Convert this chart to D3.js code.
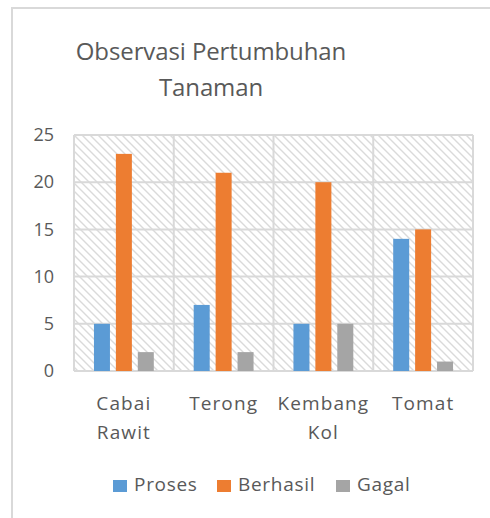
<!DOCTYPE html>
<html>
<head>
<meta charset="utf-8">
<script src="https://cdn.jsdelivr.net/npm/d3@7"></script>
<style>
  body { margin: 0; background: #fff; }
  svg text { font-family: "Open Sans", sans-serif; fill: #595959; }
</style>
</head>
<body>
<div id="chart"></div>
<script>
(function () {
  "use strict";

  // data
  const categories = ["Cabai Rawit", "Terong", "Kembang Kol", "Tomat"];
  const categoryLines = [["Cabai", "Rawit"], ["Terong"], ["Kembang", "Kol"], ["Tomat"]];
  const seriesNames = ["Proses", "Berhasil", "Gagal"];
  const proses = [5, 7, 5, 14];
  const berhasil = [23, 21, 20, 15];
  const gagal = [2, 2, 5, 1];
  const yTicks = [0, 5, 10, 15, 20, 25];
  const titleLines = ["Observasi Pertumbuhan", "Tanaman"];
  const colors = ["#5B9BD5", "#ED7D31", "#A5A5A5"];

  const seriesValues = [proses, berhasil, gagal];

  const width = 490;
  const height = 518;
  const margin = { top: 135, right: 17, bottom: 147, left: 74 };
  const plotW = width - margin.left - margin.right;
  const plotH = height - margin.top - margin.bottom;

  const svg = d3
    .select("#chart")
    .append("svg")
    .attr("width", width)
    .attr("height", height);

  // hatch pattern for the plot background
  const defs = svg.append("defs");
  defs
    .append("pattern")
    .attr("id", "hatch")
    .attr("patternUnits", "userSpaceOnUse")
    .attr("width", 8)
    .attr("height", 8)
    .append("path")
    .attr("d", "M-2,-2 L10,10 M-2,6 L2,10 M6,-2 L10,2")
    .attr("stroke", "#dadada")
    .attr("stroke-width", 1.4);

  // outer chart border (only left and top visible)
  svg
    .append("path")
    .attr("d", `M12,${height} L12,8 L${width},8`)
    .attr("fill", "none")
    .attr("stroke", "#d9d9d9")
    .attr("stroke-width", 2);

  // title
  svg
    .append("text")
    .attr("x", 211)
    .attr("y", 60)
    .attr("text-anchor", "middle")
    .style("font-size", "24px")
    .style("letter-spacing", "-0.1px")
    .selectAll("tspan")
    .data(titleLines)
    .join("tspan")
    .attr("x", 211)
    .attr("dy", (d, i) => (i === 0 ? 0 : 36))
    .text((d) => d);

  const g = svg
    .append("g")
    .attr("transform", `translate(${margin.left},${margin.top})`);

  const x0 = d3.scaleBand().domain(categories).range([0, plotW]);
  const x1 = d3
    .scaleBand()
    .domain(seriesNames)
    .range([x0.bandwidth() * 0.2, x0.bandwidth() * 0.8])
    .paddingInner(0.27);
  const y = d3.scaleLinear().domain([0, 25]).range([plotH, 0]);

  g.append("rect")
    .attr("width", plotW)
    .attr("height", plotH)
    .attr("fill", "url(#hatch)");

  // horizontal gridlines
  g.append("g")
    .selectAll("line")
    .data(yTicks)
    .join("line")
    .attr("x1", 0)
    .attr("x2", plotW)
    .attr("y1", (d) => y(d))
    .attr("y2", (d) => y(d))
    .attr("stroke", "#d9d9d9")
    .attr("stroke-width", 2);

  // vertical gridlines at category edges
  const edges = categories.map((c) => x0(c)).concat([plotW]);
  g.append("g")
    .selectAll("line")
    .data(edges)
    .join("line")
    .attr("x1", (d) => d)
    .attr("x2", (d) => d)
    .attr("y1", 0)
    .attr("y2", plotH)
    .attr("stroke", "#d9d9d9")
    .attr("stroke-width", 2);

  // bars
  const groups = g
    .append("g")
    .selectAll("g")
    .data(categories)
    .join("g")
    .attr("transform", (c) => `translate(${x0(c)},0)`);

  groups
    .selectAll("rect")
    .data((c, ci) => seriesNames.map((s, si) => ({ s, v: seriesValues[si][ci], si })))
    .join("rect")
    .attr("x", (d) => x1(d.s))
    .attr("width", x1.bandwidth())
    .attr("y", (d) => y(d.v))
    .attr("height", (d) => plotH - y(d.v))
    .attr("fill", (d) => colors[d.si]);

  // y axis labels
  const yAxis = g
    .append("g")
    .call(d3.axisLeft(y).tickValues(yTicks).tickSize(0).tickPadding(20));
  yAxis.select(".domain").remove();
  yAxis
    .selectAll("text")
    .style("font-size", "18px")
    .style("fill", "#595959");

  // category labels
  const xLabels = g
    .append("g")
    .attr("transform", `translate(0,${plotH})`)
    .selectAll("text")
    .data(categories)
    .join("text")
    .attr("text-anchor", "middle")
    .attr("y", 39)
    .style("font-size", "19px")
    .style("letter-spacing", "1.1px");

  xLabels
    .selectAll("tspan")
    .data((c, i) => categoryLines[i])
    .join("tspan")
    .attr("x", function () {
      const c = d3.select(this.parentNode).datum();
      return x0(c) + x0.bandwidth() / 2;
    })
    .attr("dy", (d, i) => (i === 0 ? 0 : 29))
    .text((d) => d);

  // legend
  const legendX = [113, 217, 336];
  const legend = svg
    .append("g")
    .selectAll("g")
    .data(seriesNames)
    .join("g")
    .attr("transform", (d, i) => `translate(${legendX[i]},480)`);

  legend
    .append("rect")
    .attr("width", 14)
    .attr("height", 12)
    .attr("fill", (d, i) => colors[i]);

  legend
    .append("text")
    .attr("x", 21)
    .attr("y", 11)
    .style("font-size", "19px")
    .style("letter-spacing", "0.7px")
    .text((d) => d);
})();
</script>
</body>
</html>
